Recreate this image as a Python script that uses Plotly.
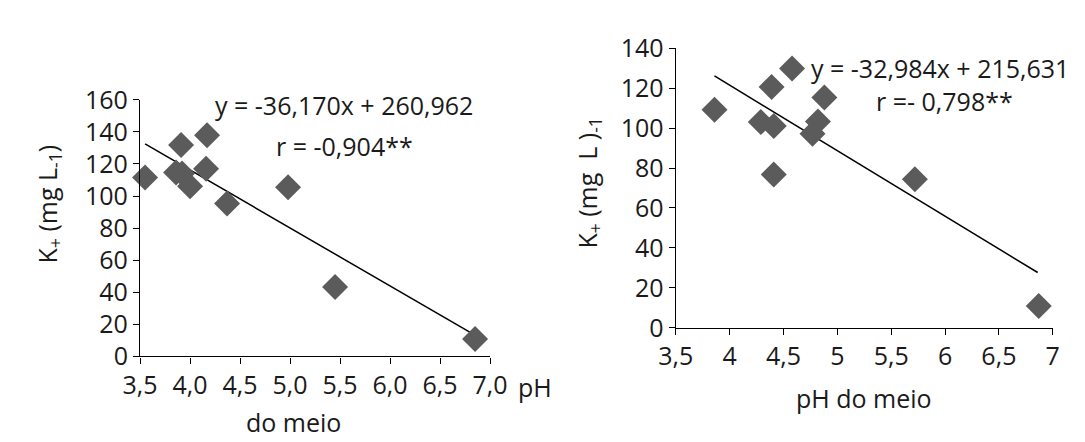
import plotly.graph_objects as go

# ---------------- data ----------------
# Left panel
ph_left = [3.55, 3.91, 4.17, 3.86, 3.92, 4.00, 4.16, 4.37, 4.98, 5.45, 6.85]
k_left = [111.6, 131.8, 137.9, 114.7, 114.1, 106.1, 117.0, 95.4, 105.5, 43.3, 10.9]
slope_left, intercept_left = -36.170, 260.962
trend_left_x = [3.55, 6.84]
ticks_left = [3.5, 4.0, 4.5, 5.0, 5.5, 6.0, 6.5, 7.0]
ticktext_left = ["3,5", "4,0", "4,5", "5,0", "5,5", "6,0", "6,5", "7,0"]

# Right panel
ph_right = [3.86, 4.29, 4.41, 4.39, 4.41, 4.58, 4.77, 4.82, 4.88, 5.72, 6.87]
k_right = [109.2, 103.0, 101.0, 120.6, 76.7, 129.8, 97.1, 103.3, 115.3, 74.4, 10.9]
trend_right_x = [3.86, 6.86]
trend_right_y = [126.1, 27.7]
ticks_right = [3.5, 4.0, 4.5, 5.0, 5.5, 6.0, 6.5, 7.0]
ticktext_right = ["3,5", "4", "4,5", "5", "5,5", "6", "6,5", "7"]

yticks_left = [0, 20, 40, 60, 80, 100, 120, 140, 160]
yticks_right = [0, 20, 40, 60, 80, 100, 120, 140]

# ---------------- figure ----------------
FONT = "Open Sans"
FS = 25
TXT = "#1a1a1a"
MK = "#5b5b5b"

trend_left_y = [slope_left * x + intercept_left for x in trend_left_x]

fig = go.Figure()
fig.add_trace(go.Scatter(x=trend_left_x, y=trend_left_y, mode="lines",
                         line=dict(color="black", width=1.5),
                         xaxis="x", yaxis="y", showlegend=False, cliponaxis=False))
fig.add_trace(go.Scatter(x=ph_left, y=k_left, mode="markers",
                         marker=dict(symbol="diamond", size=20, color=MK),
                         xaxis="x", yaxis="y", showlegend=False, cliponaxis=False))
fig.add_trace(go.Scatter(x=trend_right_x, y=trend_right_y, mode="lines",
                         line=dict(color="black", width=1.5),
                         xaxis="x2", yaxis="y2", showlegend=False, cliponaxis=False))
fig.add_trace(go.Scatter(x=ph_right, y=k_right, mode="markers",
                         marker=dict(symbol="diamond", size=20, color=MK),
                         xaxis="x2", yaxis="y2", showlegend=False, cliponaxis=False))

W, H = 1085, 442

def px(x):
    return x / W

def py(y):
    return (H - y) / H

axis_common = dict(showline=True, linecolor="black", linewidth=1.3,
                   ticks="outside", ticklen=6, tickcolor="black", tickwidth=1.3,
                   showgrid=False, zeroline=False,
                   tickfont=dict(family=FONT, size=FS, color=TXT))

fig.update_layout(
    width=W, height=H,
    margin=dict(l=0, r=0, t=0, b=0),
    paper_bgcolor="white", plot_bgcolor="white",
    font=dict(family=FONT, size=FS, color=TXT),
    xaxis=dict(domain=[px(118), px(480)], range=[3.5, 7.0], anchor="y",
               tickvals=ticks_left, ticktext=ticktext_left, **axis_common),
    yaxis=dict(domain=[py(358), py(80)], range=[0, 160], anchor="x",
               tickvals=yticks_left, **axis_common),
    xaxis2=dict(domain=[px(672), px(1062)], range=[3.5, 7.0], anchor="y2",
                tickvals=ticks_right, ticktext=ticktext_right, **axis_common),
    yaxis2=dict(domain=[py(327), py(24)], range=[0, 140], anchor="x2",
                tickvals=yticks_right, **axis_common),
)

annotations = [
    dict(text="y = -36,170x + 260,962", x=px(329), y=py(86)),
    dict(text="r = -0,904**", x=px(329), y=py(130)),
    dict(text="y = -32,984x + 215,631", x=px(945), y=py(45)),
    dict(text="r =- 0,798**", x=px(950), y=py(81)),
    dict(text="K<sub>+</sub> (mg L<sub>-1</sub>)", x=px(23), y=py(193), textangle=-90),
    dict(text="K<sub>+</sub> (mg  L )<sub>-1</sub>", x=px(582), y=py(170), textangle=-90),
    dict(text="pH", x=px(526), y=py(391)),
    dict(text="do meio", x=px(277), y=py(429)),
    dict(text="pH do meio", x=px(867), y=py(403)),
]
for a in annotations:
    a.update(xref="paper", yref="paper", showarrow=False,
             font=dict(family=FONT, size=FS, color=TXT),
             xanchor="center", yanchor="middle")
fig.update_layout(annotations=annotations)

fig.write_html("out.html")
